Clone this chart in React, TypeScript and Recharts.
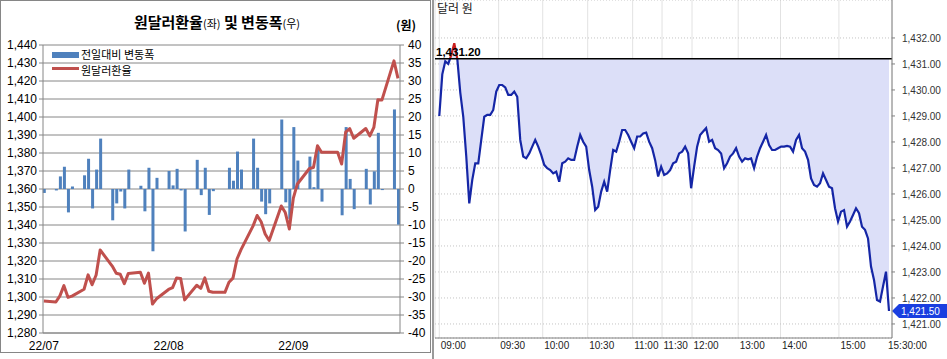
import React from "react";
import { ComposedChart, Bar, Line, Area, XAxis, YAxis, CartesianGrid, ReferenceLine } from "recharts";

const KR = '"Noto Sans CJK KR", "Noto Sans", sans-serif';
const NUM = '"Liberation Sans", Arial, sans-serif';

// ---- left chart: daily close and day-over-day change ----
const dates = [
  "2022-07-01", "2022-07-04", "2022-07-05", "2022-07-06", "2022-07-07", "2022-07-08",
  "2022-07-11", "2022-07-12", "2022-07-13", "2022-07-14", "2022-07-15",
  "2022-07-18", "2022-07-19", "2022-07-20", "2022-07-21", "2022-07-22",
  "2022-07-25", "2022-07-26", "2022-07-27", "2022-07-28", "2022-07-29",
  "2022-08-01", "2022-08-02", "2022-08-03", "2022-08-04", "2022-08-05",
  "2022-08-08", "2022-08-09", "2022-08-10", "2022-08-11", "2022-08-12",
  "2022-08-15", "2022-08-16", "2022-08-17", "2022-08-18", "2022-08-19",
  "2022-08-22", "2022-08-23", "2022-08-24", "2022-08-25", "2022-08-26",
  "2022-08-29", "2022-08-30", "2022-08-31",
  "2022-09-01", "2022-09-02",
  "2022-09-05", "2022-09-06", "2022-09-07", "2022-09-08", "2022-09-09",
  "2022-09-12", "2022-09-13", "2022-09-14", "2022-09-15", "2022-09-16",
  "2022-09-19", "2022-09-20", "2022-09-21", "2022-09-22", "2022-09-23",
  "2022-09-26", "2022-09-27",
];

const usdkrw = [
  1297.8, 1297.2, 1300.6, 1306.3, 1299.8, 1300.5, 1304.3, 1312.3, 1306.8, 1312.2, 1326.1,
  1317.2, 1313.2, 1312.6, 1307.4, 1313.1, 1313.8, 1307.6, 1313.3, 1296.1, 1299.0,
  1304.2, 1305.2, 1310.6, 1310.3, 1298.4, 1306.5, 1304.8, 1310.6, 1303.2, 1302.6,
  1302.6, 1308.2, 1310.5, 1321.1, 1326.3, 1339.5, 1345.3, 1341.8, 1335.0, 1331.4,
  1350.6, 1346.9, 1337.8,
  1354.9, 1362.8, 1371.4, 1371.9, 1384.0, 1380.4, 1380.4, 1380.4, 1373.9, 1391.6,
  1393.6, 1388.2, 1393.6, 1389.5, 1394.2, 1409.6, 1409.4, 1431.2, 1421.5,
];

const change = [
  -1.1, -0.4, 3.5, 6.2, -6.5, 0.7, 3.8, 8.4, -5.4, 5.4, 14.0,
  -8.7, -4.0, -0.7, -5.4, 5.4, 0.9, -6.2, 5.9, -17.3, 3.1,
  5.0, 1.0, 5.6, -0.4, -11.8, 8.1, -1.7, 5.9, -7.2, -0.6,
  0, 5.9, 2.3, 10.4, 5.4, 14.0, 5.9, -3.5, -7.0, -4.0,
  19.3, -3.7, -8.3,
  17.2, 7.9, 9.0, 0.5, 11.5, -3.5, 0, 0, -7.3, 17.2,
  2.8, -5.6, 5.6, -4.3, 4.9, 15.6, -0.3, 22.1, -9.9,
];

const monthTicks = [0, 31, 62];
const monthLabels = ["22/07", "22/08", "22/09"];
const rateTicks = [1280, 1290, 1300, 1310, 1320, 1330, 1340, 1350, 1360, 1370, 1380, 1390, 1400, 1410, 1420, 1430, 1440];
const changeTicks = [-40, -35, -30, -25, -20, -15, -10, -5, 0, 5, 10, 15, 20, 25, 30, 35, 40];

// ---- right chart: intraday ticks ----
const intraday = [
  1429.0, 1430.6, 1431.1, 1431.0, 1431.35, 1431.8, 1431.2, 1429.9, 1428.97, 1427.44,
  1425.64, 1426.54, 1427.18, 1427.18, 1428.08, 1428.97, 1429.04, 1429.04, 1429.23, 1429.94,
  1430.19, 1430.19, 1430.1, 1429.81, 1429.81, 1429.94, 1429.74, 1428.08, 1427.44, 1427.37,
  1427.56, 1427.82, 1428.08, 1427.82, 1427.5, 1427.12, 1426.99, 1426.92, 1426.79, 1426.86,
  1426.47, 1427.18, 1427.24, 1427.37, 1427.31, 1427.31, 1427.82, 1428.27, 1428.01, 1427.82,
  1426.92, 1426.28, 1425.38, 1425.51, 1426.09, 1426.47, 1426.09, 1426.92, 1427.69, 1427.63,
  1428.01, 1428.46, 1428.46, 1428.27, 1428.01, 1427.76, 1428.21, 1428.21, 1428.33, 1428.36,
  1428.01, 1427.76, 1427.3, 1426.67, 1427.05, 1426.73, 1426.79, 1426.92, 1427.18, 1427.24,
  1427.56, 1427.63, 1427.82, 1427.56, 1426.22, 1427.05, 1427.82, 1428.27, 1428.4, 1428.53,
  1428.01, 1428.08, 1427.76, 1427.69, 1427.56, 1426.99, 1427.18, 1427.44, 1427.56, 1427.76,
  1427.44, 1427.24, 1427.37, 1427.33, 1427.37, 1426.99, 1427.44, 1427.76, 1428.01, 1428.27,
  1427.88, 1427.69, 1427.69, 1427.76, 1427.82, 1427.82, 1427.85, 1427.82, 1427.63, 1428.08,
  1428.27, 1427.76, 1427.63, 1427.31, 1426.6, 1426.35, 1426.28, 1426.41, 1426.79, 1426.54,
  1426.28, 1426.22, 1425.45, 1424.94, 1425.32, 1425.38, 1424.74, 1424.94, 1425.19, 1425.45,
  1425.26, 1424.74, 1424.62, 1424.29, 1423.21, 1422.69, 1421.92, 1421.86, 1422.44, 1423.01,
  1421.5,
];

const openPrice = 1431.2;
const timeTicks = [0, 19.8, 34.5, 49.5, 64.5, 74.3, 84.3, 99.7, 113.8, 133.3, 151];
const timeLabels = ["09:00", "09:30", "10:00", "10:30", "11:00", "11:30", "12:00", "13:00", "14:00", "15:00", "15:30:00"];
const priceTicks = [1421, 1422, 1423, 1424, 1425, 1426, 1427, 1428, 1429, 1430, 1431, 1432];

const dayOf = (s: string) => Math.round((Date.parse(s) - Date.parse(dates[0])) / 86400000);
const dailyData = dates.map((d, i) => ({ day: dayOf(d), rate: usdkrw[i], chg: change[i] }));
const tickData = intraday.map((v, i) => ({ i, v }));
const lastPrice = intraday[intraday.length - 1];
const vMax = Math.max(...intraday);
const vMin = Math.min(...intraday);
const split = (vMax - openPrice) / (vMax - vMin);

const fmt2 = (v: number) => v.toLocaleString("en-US", { minimumFractionDigits: 2, maximumFractionDigits: 2 });

const OpenLabel = (props: any) => {
  const { x, y } = props.viewBox;
  return (
    <text x={x + 1} y={y - 3} fontFamily={NUM} fontWeight={700} fontSize={11.5} fill="#000">
      {fmt2(openPrice)}
    </text>
  );
};

const LastBadge = (props: any) => {
  const { x, y, width } = props.viewBox;
  const x0 = x + width;
  const h = 7;
  const pts = `${x0},${y} ${x0 + 7},${y - h} ${x0 + 56},${y - h} ${x0 + 56},${y + h} ${x0 + 7},${y + h}`;
  return (
    <g>
      <polygon points={pts} fill="#1a3fe0" />
      <text x={x0 + 9} y={y + 4} fontFamily={NUM} fontSize={10} fill="#fff">{fmt2(lastPrice)}</text>
    </g>
  );
};

const TimeTick = (props: any) => {
  const { x, y, index } = props;
  const end = index === timeLabels.length - 1;
  return (
    <text x={x + (end ? -4 : 1.5)} y={y} dy="0.71em" fontFamily={NUM} fontSize={10} fill="#222">
      {timeLabels[index]}
    </text>
  );
};

function DailyChart() {
  return (
    <ComposedChart width={431} height={352} data={dailyData} margin={{ top: 45, right: 0, bottom: 0, left: 0 }}>
      <CartesianGrid yAxisId="left" vertical={false} stroke="#868686" />
      <XAxis
        type="number"
        dataKey="day"
        domain={[-0.2, 88.5]}
        ticks={monthTicks}
        interval={0}
        tickFormatter={(v) => monthLabels[monthTicks.indexOf(v)]}
        height={19}
        tickLine={false}
        axisLine={{ stroke: "#868686" }}
        tick={{ fontSize: 12, fill: "#000", fontFamily: NUM }}
      />
      <YAxis
        yAxisId="left"
        domain={[1280, 1440]}
        ticks={rateTicks}
        interval={0}
        width={43}
        tickSize={4}
        tickMargin={2}
        tickFormatter={(v) => v.toLocaleString("en-US")}
        axisLine={{ stroke: "#868686" }}
        tickLine={{ stroke: "#868686" }}
        tick={{ fontSize: 12, fill: "#000", fontFamily: NUM }}
      />
      <YAxis
        yAxisId="right"
        orientation="right"
        domain={[-40, 40]}
        ticks={changeTicks}
        interval={0}
        width={31}
        tickSize={4}
        tickMargin={4}
        axisLine={{ stroke: "#868686" }}
        tickLine={{ stroke: "#868686" }}
        tick={{ fontSize: 12, fill: "#000", fontFamily: NUM }}
      />
      <Bar yAxisId="right" dataKey="chg" fill="#4f81bd" barSize={3} isAnimationActive={false} />
      <Line
        yAxisId="left"
        type="linear"
        dataKey="rate"
        stroke="#c0504d"
        strokeWidth={3}
        dot={false}
        strokeLinejoin="round"
        isAnimationActive={false}
      />
    </ComposedChart>
  );
}

function IntradayChart() {
  return (
    <ComposedChart width={515} height={359} data={tickData} margin={{ top: 0, right: 0, bottom: 0, left: 3 }}>
      <defs>
        <linearGradient id="tickStroke" x1="0" y1="0" x2="0" y2="1">
          <stop offset={0} stopColor="#c81e1e" />
          <stop offset={split} stopColor="#c81e1e" />
          <stop offset={split} stopColor="#1526a6" />
          <stop offset={1} stopColor="#1526a6" />
        </linearGradient>
      </defs>
      <CartesianGrid horizontal={false} stroke="#e2e2e2" />
      <CartesianGrid vertical={false} stroke="#c4c4c4" strokeDasharray="1 2" />
      <XAxis
        type="number"
        dataKey="i"
        domain={[-1.43, 151]}
        ticks={timeTicks}
        interval={0}
        height={21}
        tickSize={2}
        tickLine={false}
        axisLine={{ stroke: "#808080" }}
        tick={<TimeTick />}
      />
      <YAxis
        orientation="right"
        domain={[1420.46, 1433.46]}
        allowDataOverflow
        ticks={priceTicks}
        interval={0}
        width={55}
        tickSize={3}
        tickMargin={7}
        tickFormatter={fmt2}
        axisLine={{ stroke: "#808080" }}
        tickLine={{ stroke: "#808080" }}
        tick={{ fontSize: 10, fill: "#333", fontFamily: NUM }}
      />
      <Area
        type="linear"
        dataKey="v"
        baseValue={openPrice}
        fill="#dcdff8"
        fillOpacity={1}
        stroke="none"
        isAnimationActive={false}
      />
      <Line
        type="linear"
        dataKey="v"
        stroke="url(#tickStroke)"
        strokeWidth={2.2}
        dot={false}
        isAnimationActive={false}
      />
      <ReferenceLine y={openPrice} stroke="#000" strokeWidth={1.5} label={OpenLabel} />
      <ReferenceLine y={lastPrice} stroke="none" label={LastBadge} />
    </ComposedChart>
  );
}

export default function App() {
  return (
    <div style={{ position: "absolute", left: 0, top: 0, width: 947, height: 359, background: "#fff", overflow: "hidden" }}>
      <div style={{ position: "absolute", left: 0, top: 0, width: 431, height: 353, border: "1px solid #868686", boxSizing: "border-box" }} />
      <div style={{ position: "absolute", left: 0, top: 0 }}>
        <DailyChart />
      </div>
      <div style={{ position: "absolute", left: 0, width: 434, top: 13, textAlign: "center", fontFamily: KR, fontWeight: 700, fontSize: 15, lineHeight: "18px", color: "#000" }}>
        원달러환율<span style={{ fontSize: 11, fontWeight: 400 }}>(좌)</span> 및 변동폭<span style={{ fontSize: 11, fontWeight: 400 }}>(우)</span>
      </div>
      <div style={{ position: "absolute", left: 396, top: 18, fontFamily: KR, fontWeight: 700, fontSize: 12, lineHeight: "14px" }}>(원)</div>
      <div style={{ position: "absolute", left: 52, top: 52, width: 27, height: 6, background: "#4f81bd" }} />
      <div style={{ position: "absolute", left: 81, top: 46, fontFamily: KR, fontSize: 11, lineHeight: "16px" }}>전일대비 변동폭</div>
      <div style={{ position: "absolute", left: 52, top: 67, width: 27, height: 3, background: "#c0504d" }} />
      <div style={{ position: "absolute", left: 81, top: 62, fontFamily: KR, fontSize: 11, lineHeight: "16px" }}>원달러환율</div>

      <div style={{ position: "absolute", left: 432, top: 0 }}>
        <IntradayChart />
      </div>
      <div style={{ position: "absolute", left: 432, top: 0, width: 2, height: 359, background: "#9a9a9a" }} />
      <div style={{ position: "absolute", left: 437, top: 1, fontFamily: KR, fontSize: 12, lineHeight: "14px", color: "#222" }}>달러 원</div>
    </div>
  );
}
